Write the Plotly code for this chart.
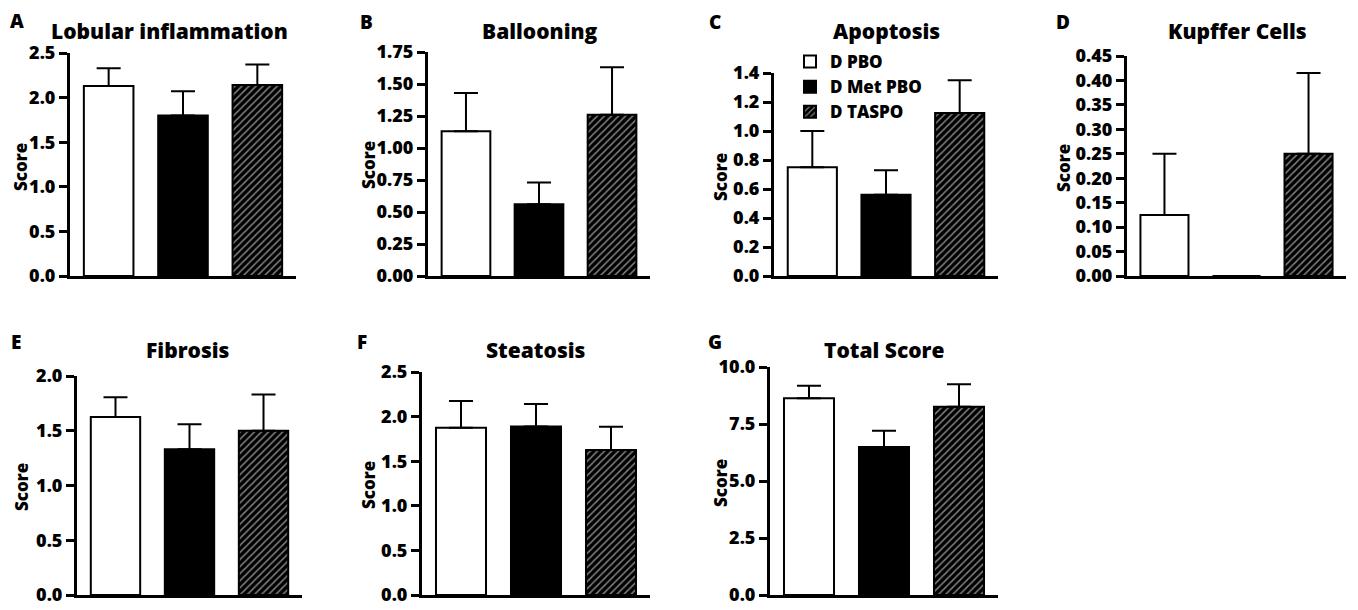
import plotly.graph_objects as go

# ---------------- data ----------------
groups = ["D PBO", "D Met PBO", "D TASPO"]
panel_titles = ["Lobular inflammation", "Ballooning", "Apoptosis", "Kupffer Cells",
                "Fibrosis", "Steatosis", "Total Score"]
panel_letters = ["A", "B", "C", "D", "E", "F", "G"]

lobular_mean = [2.13, 1.80, 2.14]
lobular_sem = [0.20, 0.27, 0.23]
ballooning_mean = [1.13, 0.56, 1.26]
ballooning_sem = [0.30, 0.17, 0.37]
apoptosis_mean = [0.75, 0.56, 1.125]
apoptosis_sem = [0.25, 0.17, 0.225]
kupffer_mean = [0.125, 0.0, 0.25]
kupffer_sem = [0.125, 0.0, 0.165]
fibrosis_mean = [1.625, 1.33, 1.50]
fibrosis_sem = [0.18, 0.23, 0.33]
steatosis_mean = [1.875, 1.89, 1.625]
steatosis_sem = [0.30, 0.25, 0.26]
total_mean = [8.63, 6.49, 8.26]
total_sem = [0.55, 0.71, 0.98]

y_max = [2.5, 1.75, 1.4, 0.45, 2.0, 2.5, 10.0]
y_step = [0.5, 0.25, 0.2, 0.05, 0.5, 0.5, 2.5]
y_fmt = [".1f", ".2f", ".1f", ".2f", ".1f", ".1f", ".1f"]

means = [lobular_mean, ballooning_mean, apoptosis_mean, kupffer_mean,
         fibrosis_mean, steatosis_mean, total_mean]
sems = [lobular_sem, ballooning_sem, apoptosis_sem, kupffer_sem,
        fibrosis_sem, steatosis_sem, total_sem]

# ---------------- layout (pixels in the 1358x610 window) ----------------
OFF = 8                      # default page body margin
W, H = 1358 - OFF, 610 - OFF


def px(x):
    return (x - OFF) / W


def py(y):
    return 1 - (y - OFF) / H


# (x_left, x_right, y_top, y_bottom)
boxes = [
    (70, 296, 53, 276),
    (428, 650, 52, 276),
    (774, 998, 73, 276),
    (1127, 1346, 56, 276),
    (77, 302, 376, 595),
    (422, 650, 372, 595),
    (770, 998, 367, 595),
]
title_pos = [(169, 31), (540, 31), (886, 31), (1237, 31),
             (188, 350), (536, 350), (884, 350)]
letter_pos = [(17, 21), (366, 22), (715, 22), (1063, 22),
              (16, 342), (362, 342), (715, 342)]
score_pos = [(20, 167), (368, 165), (720, 177), (1064, 168),
             (21, 487), (368, 485), (720, 483)]

fills = ["white", "black", "black"]
shapes = ["", "", "/"]
FONT = "Open Sans"
WT = 800

fig = go.Figure()
layout = dict(
    width=W, height=H,
    margin=dict(l=0, r=0, t=0, b=0, autoexpand=False),
    paper_bgcolor="white", plot_bgcolor="white",
    barmode="overlay",
    font=dict(family=FONT, color="black"),
    annotations=[],
)

for i in range(7):
    ax = "" if i == 0 else str(i + 1)
    x0, x1, yt, yb = boxes[i]
    for g in range(3):
        fig.add_trace(go.Bar(
            x=[g], y=[means[i][g]], width=0.667,
            name=groups[g], legendgroup=groups[g], showlegend=(i == 2),
            xaxis="x" + ax, yaxis="y" + ax,
            marker=dict(color=fills[g], line=dict(color="black", width=2),
                        pattern=dict(shape=shapes[g], fgcolor="white", bgcolor="black",
                                     size=5, solidity=0.3)),
            error_y=dict(type="data", symmetric=False, array=[sems[i][g]],
                         arrayminus=[0], color="black", thickness=2, width=12,
                         visible=True),
        ))
    layout["xaxis" + ax] = dict(
        domain=[px(x0), px(x1)], anchor="y" + ax, automargin=False,
        range=[-0.52, 2.52], showline=True, linecolor="black", linewidth=3,
        showgrid=False, zeroline=False, ticks="", showticklabels=False,
    )
    layout["yaxis" + ax] = dict(
        domain=[py(yb), py(yt)], anchor="x" + ax, automargin=False,
        range=[0, y_max[i]], tick0=0, dtick=y_step[i], tickformat=y_fmt[i],
        showline=True, linecolor="black", linewidth=3,
        ticks="outside", ticklen=8, tickwidth=3, tickcolor="black",
        tickfont=dict(family=FONT, size=18, weight=WT, color="black"),
        showgrid=False, zeroline=False,
    )
    tx, ty = title_pos[i]
    layout["annotations"].append(dict(
        text=panel_titles[i], x=px(tx), y=py(ty), xref="paper", yref="paper",
        xanchor="center", yanchor="middle", showarrow=False,
        font=dict(family=FONT, size=21, weight=WT, color="black")))
    lx, ly = letter_pos[i]
    layout["annotations"].append(dict(
        text=panel_letters[i], x=px(lx), y=py(ly), xref="paper", yref="paper",
        xanchor="center", yanchor="middle", showarrow=False,
        font=dict(family=FONT, size=19, weight=WT, color="black")))
    sx, sy = score_pos[i]
    layout["annotations"].append(dict(
        text="Score", x=px(sx), y=py(sy), xref="paper", yref="paper",
        xanchor="center", yanchor="middle", showarrow=False, textangle=-90,
        font=dict(family=FONT, size=17, weight=WT, color="black")))

layout["showlegend"] = True
layout["legend"] = dict(
    x=px(790), y=py(44), xanchor="left", yanchor="top",
    bgcolor="rgba(0,0,0,0)", borderwidth=0, traceorder="normal",
    font=dict(family=FONT, size=17, weight=WT, color="black"),
    tracegroupgap=0, itemwidth=30,
)

fig.update_layout(**layout)
fig.write_html("out.html")
